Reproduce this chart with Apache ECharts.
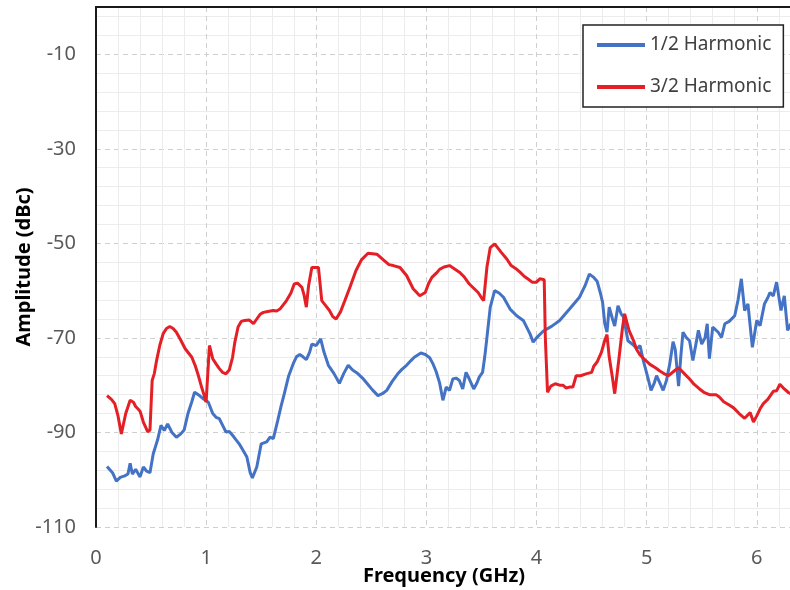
<!DOCTYPE html>
<html>
<head>
<meta charset="utf-8">
<script src="https://cdn.jsdelivr.net/npm/echarts@6/dist/echarts.min.js"></script>
<style>html,body{margin:0;padding:0;background:#fff}#c{width:790px;height:590px}</style>
</head>
<body>
<div id="c"></div>
<script>
var seriesNames = ['1/2 Harmonic', '3/2 Harmonic'];
var xTickLabels = ['0', '1', '2', '3', '4', '5', '6'];
var yTickLabels = ['-110', '-90', '-70', '-50', '-30', '-10'];

var halfFreq = [0.10,0.15,0.185,0.22,0.26,0.29,0.31,0.33,0.36,0.40,0.43,0.46,0.49,0.52,0.56,0.59,0.62,0.65,0.69,0.73,0.77,0.80,0.835,0.87,0.895,0.94,0.98,1.02,1.06,1.09,1.12,1.15,1.18,1.21,1.24,1.27,1.30,1.34,1.37,1.40,1.42,1.46,1.50,1.55,1.58,1.61,1.65,1.68,1.71,1.75,1.79,1.82,1.85,1.88,1.91,1.94,1.96,2.00,2.04,2.07,2.11,2.16,2.21,2.25,2.29,2.33,2.37,2.42,2.46,2.51,2.56,2.60,2.64,2.69,2.74,2.78,2.82,2.86,2.89,2.95,2.99,3.03,3.06,3.09,3.12,3.15,3.18,3.21,3.24,3.27,3.30,3.33,3.36,3.39,3.43,3.46,3.48,3.51,3.53,3.55,3.58,3.62,3.66,3.70,3.76,3.82,3.88,3.94,3.97,4.00,4.06,4.14,4.21,4.30,4.39,4.44,4.48,4.52,4.55,4.58,4.60,4.62,4.64,4.66,4.69,4.71,4.74,4.77,4.79,4.83,4.88,4.91,4.94,4.97,5.01,5.04,5.07,5.09,5.12,5.15,5.18,5.21,5.24,5.26,5.29,5.31,5.33,5.36,5.39,5.42,5.45,5.47,5.50,5.53,5.55,5.57,5.60,5.65,5.68,5.71,5.75,5.80,5.83,5.86,5.89,5.92,5.96,6.00,6.03,6.07,6.10,6.12,6.15,6.18,6.22,6.25,6.28,6.31];
var halfAmp = [-97.2,-98.5,-100.3,-99.5,-99.2,-98.8,-96.5,-98.8,-97.8,-99.4,-97.3,-98.2,-98.5,-94.5,-91.5,-88.5,-89.6,-88.2,-90,-91,-90.3,-89.5,-86,-83.5,-81.5,-82.2,-83,-83.6,-86,-86.8,-87.1,-88.5,-89.9,-89.8,-90.6,-91.5,-92.4,-94,-95.2,-98.5,-99.6,-97.3,-92.4,-92,-91,-91.3,-87.5,-84.5,-81.8,-78,-75.5,-74,-73.5,-74,-74.6,-73,-71.3,-71.6,-70.2,-73,-75.8,-77.5,-79.6,-77.5,-75.8,-76.8,-77.4,-78.5,-79.6,-81,-82.2,-81.8,-81.1,-79.2,-77.6,-76.6,-75.8,-74.8,-74.1,-73.2,-73.5,-74.2,-75.5,-77.2,-79.5,-83.2,-80.4,-81.1,-78.7,-78.5,-79,-80.8,-77.3,-78.7,-80.8,-79.5,-78.3,-77.3,-74,-69.9,-63.5,-60,-60.5,-61.4,-63.9,-65.3,-66.3,-69.1,-70.9,-70,-68.6,-67.5,-66.3,-63.9,-61.4,-59,-56.5,-57.2,-58,-60.5,-62.5,-67,-68.8,-63.5,-66,-67.5,-63.2,-65,-65.5,-70.6,-71.5,-72.3,-71.6,-74.8,-78.3,-81.1,-79.5,-78,-79.5,-81.1,-79,-75.5,-70.8,-72.5,-80.2,-74,-68.8,-69.9,-70.6,-74.8,-71,-68.4,-71.3,-70,-67,-74.4,-67.7,-68.8,-69.9,-67,-66.5,-65.3,-62,-57.5,-64.2,-62.8,-72,-66.3,-67.4,-62.8,-61.5,-60.4,-61.1,-58.2,-64.2,-61.1,-68.4,-67];

var threeHalfFreq = [0.10,0.14,0.17,0.20,0.23,0.27,0.31,0.34,0.36,0.38,0.40,0.43,0.47,0.49,0.51,0.53,0.55,0.58,0.61,0.64,0.67,0.70,0.73,0.77,0.81,0.84,0.87,0.90,0.93,0.96,0.98,1.00,1.03,1.06,1.09,1.12,1.15,1.18,1.21,1.24,1.26,1.29,1.32,1.35,1.39,1.43,1.46,1.49,1.52,1.56,1.61,1.64,1.67,1.70,1.73,1.77,1.80,1.83,1.87,1.89,1.91,1.93,1.96,2.02,2.05,2.08,2.12,2.15,2.18,2.22,2.26,2.31,2.36,2.41,2.47,2.55,2.62,2.66,2.70,2.76,2.82,2.88,2.94,2.99,3.02,3.05,3.09,3.12,3.16,3.21,3.25,3.30,3.34,3.39,3.43,3.47,3.50,3.52,3.55,3.58,3.62,3.65,3.68,3.73,3.77,3.81,3.85,3.89,3.92,3.96,4.00,4.03,4.07,4.08,4.10,4.13,4.17,4.21,4.24,4.27,4.30,4.33,4.36,4.40,4.45,4.50,4.52,4.55,4.59,4.62,4.64,4.66,4.69,4.71,4.73,4.75,4.78,4.80,4.84,4.88,4.91,4.94,4.97,5.03,5.08,5.12,5.16,5.20,5.25,5.29,5.34,5.39,5.43,5.48,5.52,5.57,5.63,5.66,5.70,5.75,5.79,5.84,5.89,5.94,5.97,6.00,6.03,6.06,6.10,6.15,6.18,6.21,6.25,6.29,6.31];
var threeHalfAmp = [-82.2,-83,-83.9,-86.5,-90.3,-86,-83.2,-83.6,-84.5,-85,-85.5,-87.8,-89.9,-89.5,-79,-77.5,-74.8,-71.5,-69.1,-68,-67.6,-68,-68.8,-70.5,-72.3,-73.2,-74.1,-75.8,-78,-80.5,-82,-83.6,-71.6,-74.4,-75.5,-76.5,-77.3,-77.6,-76.8,-74.1,-71,-67.7,-66.5,-66.3,-66.2,-67,-66,-65,-64.6,-64.4,-64.2,-64.3,-63.9,-63,-62.1,-60.5,-58.6,-58.4,-59.3,-61,-63.5,-59,-55.1,-55.1,-62.1,-63,-64.2,-65.5,-66,-64.5,-62.1,-59,-55.8,-53.5,-52.1,-52.3,-53.7,-54.5,-54.7,-55.1,-56.8,-59.6,-61.1,-60.4,-58.5,-57.2,-56.3,-55.5,-55,-54.7,-55.3,-56.1,-57,-58.6,-59.5,-60.4,-61.5,-62.1,-55,-50.9,-50.1,-51,-51.9,-53.3,-54.7,-55.3,-56.1,-57,-57.5,-58.2,-58.2,-57.5,-57.7,-69.9,-81.5,-80.2,-79.7,-80,-80,-80.6,-80.4,-80.4,-78,-78,-77.6,-77.3,-76,-75.1,-73,-70.5,-69.3,-74,-78.5,-81.8,-78,-74.1,-68,-64.9,-68.4,-70.5,-72.5,-73.6,-74.3,-75.6,-76.3,-77,-77.6,-78,-77,-76.3,-77.5,-78.7,-79.8,-80.8,-81.5,-82,-82,-82.5,-83.5,-84.2,-84.8,-86,-87,-85.8,-87.8,-86.5,-85,-83.9,-83,-81.3,-81.2,-79.8,-80.8,-81.6,-81.8];

function pairs(xs, ys) { return xs.map(function (x, i) { return [x, ys[i]]; }); }

var FONT = 'Noto Sans';
var AXIS_LINE = { show: true, lineStyle: { color: '#1a1a1a', width: 2 } };
var chart = echarts.init(document.getElementById('c'), null, { renderer: 'canvas' });
chart.setOption({
  animation: false,
  backgroundColor: '#ffffff',
  grid: { left: 96, right: -2, top: 7, bottom: 63, containLabel: false, outerBoundsMode: 'none' },
  legend: {
    orient: 'vertical', left: 583, top: 25,
    padding: [9, 12, 9, 14],
    itemWidth: 48, itemHeight: 4, itemGap: 20,
    icon: 'rect',
    borderColor: '#222', borderWidth: 1.5,
    backgroundColor: '#fff',
    textStyle: { fontFamily: FONT, fontSize: 19, color: '#404040', lineHeight: 22 },
    data: seriesNames
  },
  xAxis: [{
    type: 'value', min: 0, max: 6.32, interval: 1, position: 'bottom',
    name: 'Frequency (GHz)', nameLocation: 'middle', nameGap: 39, nameMoveOverlap: false,
    nameTextStyle: { fontFamily: FONT, fontSize: 20, fontWeight: 'bold', color: '#000' },
    axisLine: AXIS_LINE, axisTick: { show: false },
    axisLabel: { fontFamily: FONT, fontSize: 20, color: '#595959', margin: 21, showMaxLabel: false,
      formatter: function (v) { var i = xTickLabels.indexOf(String(Math.round(v))); return Math.abs(v - Math.round(v)) < 1e-6 && i >= 0 ? xTickLabels[i] : ''; } },
    splitLine: { show: true, lineStyle: { color: '#cfcfcf', type: [5, 4], width: 1 } },
    minorTick: { show: false, splitNumber: 5 },
    minorSplitLine: { show: true, lineStyle: { color: '#ececec', width: 1 } }
  }, {
    type: 'value', min: 0, max: 6.32, position: 'top',
    axisLine: AXIS_LINE, axisTick: { show: false }, axisLabel: { show: false }, splitLine: { show: false }
  }],
  yAxis: {
    type: 'value', min: -110, max: 0, interval: 20,
    name: 'Amplitude (dBc)', nameLocation: 'middle', nameGap: 62, nameRotate: 90, nameMoveOverlap: false,
    nameTextStyle: { fontFamily: FONT, fontSize: 20, fontWeight: 'bold', color: '#000' },
    axisLine: AXIS_LINE, axisTick: { show: false },
    axisLabel: { fontFamily: FONT, fontSize: 20, color: '#595959', margin: 20, showMaxLabel: false,
      formatter: function (v) { var s = String(Math.round(v)); return yTickLabels.indexOf(s) >= 0 ? s : ''; } },
    splitLine: { show: true, lineStyle: { color: '#cfcfcf', type: [5, 4], width: 1 } },
    minorTick: { show: false, splitNumber: 5 },
    minorSplitLine: { show: true, lineStyle: { color: '#ececec', width: 1 } }
  },
  series: [
    { name: seriesNames[0], type: 'line', data: pairs(halfFreq, halfAmp), showSymbol: false, symbol: 'none',
      lineStyle: { color: '#4472c4', width: 3 }, itemStyle: { color: '#4472c4' }, z: 3 },
    { name: seriesNames[1], type: 'line', data: pairs(threeHalfFreq, threeHalfAmp), showSymbol: false, symbol: 'none',
      lineStyle: { color: '#e41f26', width: 3 }, itemStyle: { color: '#e41f26' }, z: 4 }
  ]
});
</script>
</body>
</html>
